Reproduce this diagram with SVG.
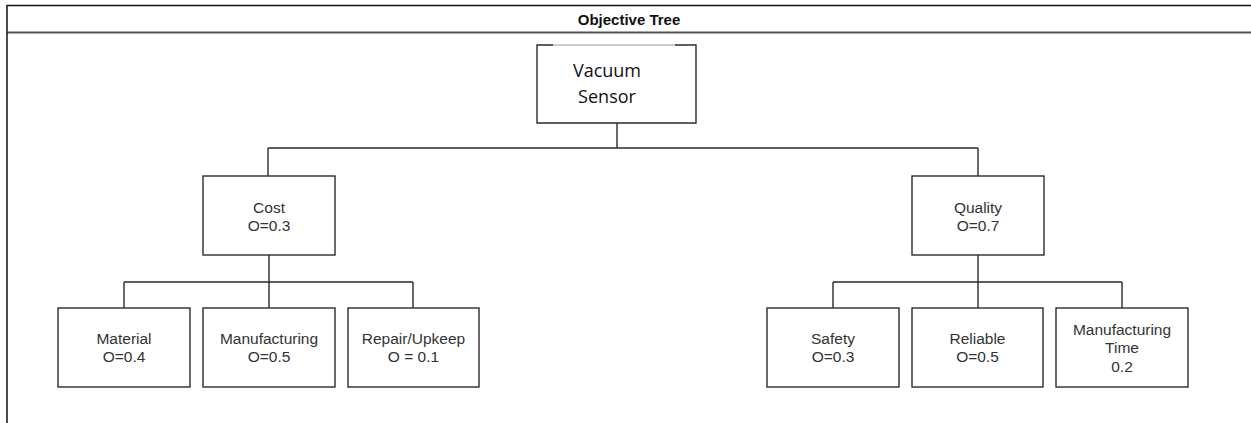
<svg xmlns="http://www.w3.org/2000/svg" width="1251" height="423" viewBox="0 0 1251 423">
<style>
.box{fill:#fff;stroke:#2b2b2b;stroke-width:1.4}
.ln{fill:none;stroke:#2b2b2b;stroke-width:1.4}
.t{font-family:"Liberation Sans",Arial,sans-serif;font-size:15.5px;fill:#333;text-anchor:middle}
.v{font-family:"Open Sans","Liberation Sans",sans-serif;font-size:18px;fill:#111;text-anchor:middle}
.title{font-family:"Liberation Sans",Arial,sans-serif;font-size:15px;font-weight:bold;fill:#111;text-anchor:middle}
</style>
<g id="frame">
<line x1="7" y1="5.5" x2="1251" y2="5.5" stroke="#111" stroke-width="1.5"/>
<line x1="7" y1="32.5" x2="1251" y2="32.5" stroke="#555" stroke-width="2"/>
<line x1="7" y1="5" x2="7" y2="423" stroke="#111" stroke-width="1.5"/>
<text class="title" x="629" y="25">Objective Tree</text>
</g>
<g id="connectors">
<path class="ln" d="M617 123V148M268 148H978M268 148V176M978 148V176"/>
<path class="ln" d="M269 255V282M124 282H413M124 282V308M269 282V308M413 282V308"/>
<path class="ln" d="M978 255V282M833 282H1122M833 282V308M978 282V308M1122 282V308"/>
</g>
<g id="vacuum-sensor">
<rect x="537" y="45" width="159" height="78" fill="#fff" stroke="none"/>
<path class="ln" d="M553 45H537V123H696V45H675"/>
<line x1="553" y1="45" x2="675" y2="45" stroke="#999" stroke-width="1"/>
<text class="v" x="607" y="77">Vacuum</text>
<text class="v" x="607" y="103">Sensor</text>
</g>
<g id="cost">
<rect class="box" x="203" y="176" width="132" height="79"/>
<text class="t" x="269" y="213">Cost</text>
<text class="t" x="269" y="231">O=0.3</text>
</g>
<g id="quality">
<rect class="box" x="912" y="176" width="132" height="79"/>
<text class="t" x="978" y="213">Quality</text>
<text class="t" x="978" y="231">O=0.7</text>
</g>
<g id="material">
<rect class="box" x="58" y="308" width="132" height="79"/>
<text class="t" x="124" y="344">Material</text>
<text class="t" x="124" y="362">O=0.4</text>
</g>
<g id="manufacturing">
<rect class="box" x="203" y="308" width="132" height="79"/>
<text class="t" x="269" y="344">Manufacturing</text>
<text class="t" x="269" y="362">O=0.5</text>
</g>
<g id="repair-upkeep">
<rect class="box" x="348" y="308" width="131" height="79"/>
<text class="t" x="413.5" y="344">Repair/Upkeep</text>
<text class="t" x="413.5" y="362">O = 0.1</text>
</g>
<g id="safety">
<rect class="box" x="767" y="308" width="132" height="79"/>
<text class="t" x="833" y="344">Safety</text>
<text class="t" x="833" y="362">O=0.3</text>
</g>
<g id="reliable">
<rect class="box" x="912" y="308" width="131" height="79"/>
<text class="t" x="977.5" y="344">Reliable</text>
<text class="t" x="977.5" y="362">O=0.5</text>
</g>
<g id="manufacturing-time">
<rect class="box" x="1056" y="308" width="132" height="79"/>
<text class="t" x="1122" y="335">Manufacturing</text>
<text class="t" x="1122" y="353">Time</text>
<text class="t" x="1122" y="372">0.2</text>
</g>
</svg>
